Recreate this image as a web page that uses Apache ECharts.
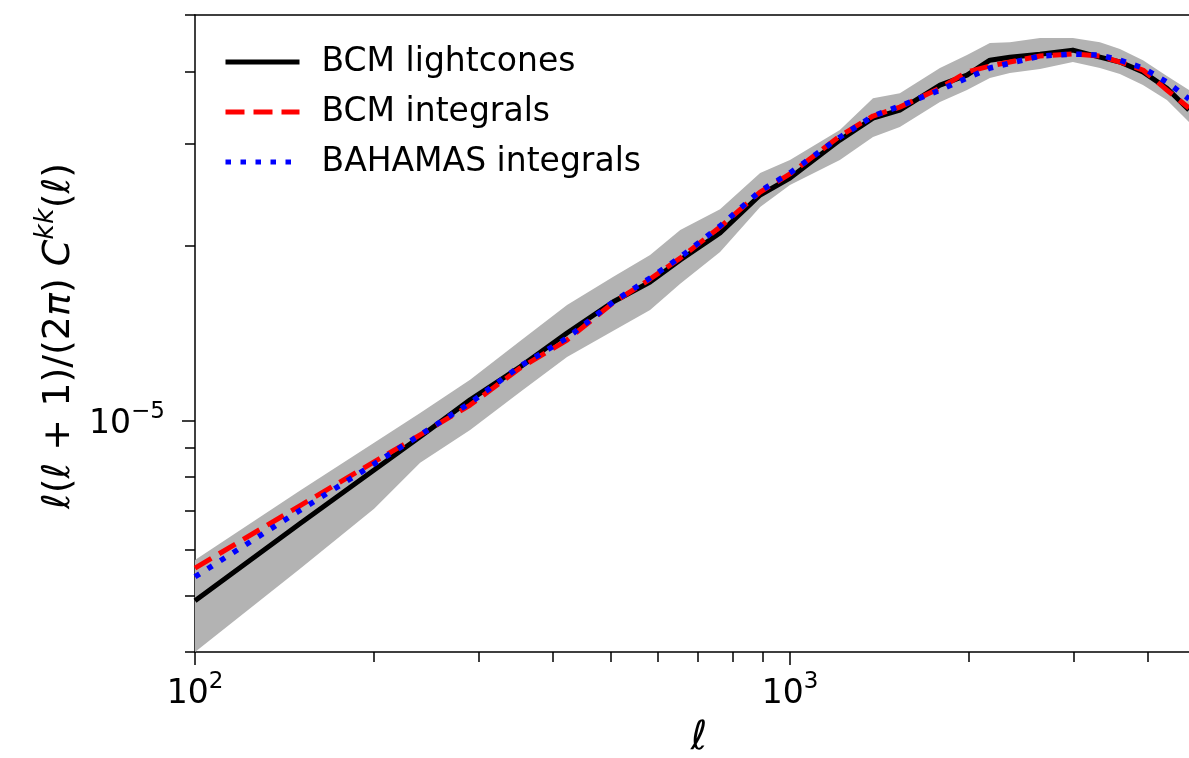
<!DOCTYPE html>
<html>
<head>
<meta charset="utf-8">
<script src="https://cdn.jsdelivr.net/npm/echarts@6/dist/echarts.min.js"></script>
<style>
html,body{margin:0;padding:0;background:#fff;}
#chart{width:1189px;height:758px;}
</style>
</head>
<body>
<div id="chart"></div>
<script>
// multipole ℓ
const ell = [100,150,200,239,290,352,422,504,582,654,763,891,1000,1213,1379,1530,1787,1984,2168,2342,2632,2989,3319,3586,3920,4301,4685];
// BCM lightcones (black solid)
const bcmLightcones = [4.90e-6,6.65e-6,8.23e-6,9.39e-6,1.087e-5,1.239e-5,1.417e-5,1.602e-5,1.735e-5,1.893e-5,2.107e-5,2.449e-5,2.620e-5,3.045e-5,3.323e-5,3.430e-5,3.787e-5,3.940e-5,4.180e-5,4.230e-5,4.280e-5,4.350e-5,4.230e-5,4.150e-5,3.990e-5,3.740e-5,3.430e-5];
// BCM integrals (red dashed)
const bcmIntegrals = [5.58e-6,7.14e-6,8.50e-6,9.46e-6,1.065e-5,1.233e-5,1.378e-5,1.596e-5,1.755e-5,1.907e-5,2.157e-5,2.478e-5,2.662e-5,3.094e-5,3.350e-5,3.470e-5,3.742e-5,3.988e-5,4.083e-5,4.149e-5,4.249e-5,4.283e-5,4.249e-5,4.149e-5,4.020e-5,3.713e-5,3.457e-5];
// BAHAMAS integrals (blue dotted)
const bahamasIntegrals = [5.39e-6,7.01e-6,8.43e-6,9.46e-6,1.074e-5,1.243e-5,1.389e-5,1.602e-5,1.762e-5,1.914e-5,2.166e-5,2.488e-5,2.673e-5,3.080e-5,3.350e-5,3.485e-5,3.713e-5,3.894e-5,4.052e-5,4.130e-5,4.249e-5,4.283e-5,4.266e-5,4.180e-5,4.052e-5,3.833e-5,3.583e-5];
// grey band around BCM lightcones
const bandUpper = [5.76e-6,7.58e-6,9.17e-6,1.032e-5,1.177e-5,1.373e-5,1.584e-5,1.769e-5,1.931e-5,2.132e-5,2.315e-5,2.673e-5,2.813e-5,3.170e-5,3.596e-5,3.668e-5,4.052e-5,4.266e-5,4.473e-5,4.490e-5,4.562e-5,4.562e-5,4.490e-5,4.370e-5,4.180e-5,3.925e-5,3.713e-5];
const bandLower = [4.00e-6,5.56e-6,7.06e-6,8.47e-6,9.65e-6,1.122e-5,1.289e-5,1.428e-5,1.552e-5,1.722e-5,1.954e-5,2.335e-5,2.548e-5,2.813e-5,3.082e-5,3.206e-5,3.540e-5,3.713e-5,3.894e-5,3.972e-5,4.036e-5,4.149e-5,4.052e-5,3.957e-5,3.787e-5,3.568e-5,3.270e-5];

const seriesNames = ['BCM lightcones','BCM integrals','BAHAMAS integrals'];
const xRange = [100, 4685];
const yRange = [4e-6, 5e-5];
const xMajorTicks = [100, 1000];
const xMinorTicks = [200,300,400,500,600,700,800,900,2000,3000,4000];
const yMajorTicks = [1e-5];
const yMinorTicks = [4e-6,5e-6,6e-6,7e-6,8e-6,9e-6,2e-5,3e-5,4e-5,5e-5];

const FONT = 'DejaVu Sans';
const supLabel = function (v) {
  const e = Math.round(Math.log10(v));
  return '{b|10}{s|' + String(e).replace('-', '\u2212') + '}';
};
const labelRich = {
  b: {fontFamily: FONT, fontSize: 33, color: '#000', verticalAlign: 'bottom', lineHeight: 40},
  s: {fontFamily: FONT, fontSize: 23, color: '#000', verticalAlign: 'top', lineHeight: 28}
};

const zip = (xs, ys) => xs.map((x, i) => [x, ys[i]]);

const chart = echarts.init(document.getElementById('chart'), null, {renderer: 'canvas'});
const commonX = {type: 'log', logBase: 10, min: xRange[0], max: xRange[1], gridIndex: 0, splitLine: {show: false}};
const commonY = {type: 'log', logBase: 10, min: yRange[0], max: yRange[1], gridIndex: 0, position: 'left', splitLine: {show: false}};
const tickLine = {color: '#000', width: 1.5};

chart.setOption({
  animation: false,
  backgroundColor: '#fff',
  grid: {left: 195, top: 15, right: 0, bottom: 106, show: false},
  xAxis: [
    Object.assign({}, commonX, {
      position: 'bottom',
      axisLine: {show: true, lineStyle: tickLine},
      axisTick: {show: true, inside: false, length: 13, lineStyle: tickLine, customValues: xMajorTicks},
      axisLabel: {show: true, margin: 19, customValues: xMajorTicks, formatter: supLabel, rich: labelRich}
    }),
    Object.assign({}, commonX, {
      position: 'bottom',
      axisLine: {show: false},
      axisTick: {show: true, inside: false, length: 10, lineStyle: tickLine, customValues: xMinorTicks},
      axisLabel: {show: false}
    }),
    Object.assign({}, commonX, {
      position: 'top',
      axisLine: {show: true, lineStyle: tickLine},
      axisTick: {show: false},
      axisLabel: {show: false}
    })
  ],
  yAxis: [
    Object.assign({}, commonY, {
      axisLine: {show: true, lineStyle: tickLine},
      axisTick: {show: true, inside: false, length: 13, lineStyle: tickLine, customValues: yMajorTicks},
      axisLabel: {show: true, margin: 30, customValues: yMajorTicks, formatter: supLabel, rich: labelRich}
    }),
    Object.assign({}, commonY, {
      axisLine: {show: false},
      axisTick: {show: true, inside: false, length: 10, lineStyle: tickLine, customValues: yMinorTicks},
      axisLabel: {show: false}
    })
  ],
  legend: {
    data: seriesNames.map(n => ({name: n, itemStyle: {opacity: 0}})),
    orient: 'vertical',
    left: 223,
    top: 38,
    padding: 0,
    itemWidth: 74,
    itemHeight: 20,
    itemGap: 2,
    itemStyle: {opacity: 0},
    lineStyle: {width: 5},
    textStyle: {fontFamily: FONT, fontSize: 33, color: '#000', lineHeight: 48, padding: [0, 0, 0, 17]},
    selectedMode: false
  },
  graphic: [
    {
      type: 'text', x: 699, y: 739,
      style: {text: '\u2113', font: 'italic 40px "DejaVu Sans"', fill: '#000', align: 'center', verticalAlign: 'middle'}
    },
    {
      type: 'text', x: 55, y: 336, rotation: Math.PI / 2,
      style: {
        text: '{i|\u2113}{n|(}{i|\u2113}{n| + 1)/(2}{i|\u03c0}{n|) }{i|C}{s|kk}{n|(}{i|\u2113}{n|)}',
        align: 'center', verticalAlign: 'middle', fill: '#000',
        rich: {
          n: {fontFamily: FONT, fontSize: 38, fill: '#000', verticalAlign: 'bottom', lineHeight: 46},
          i: {fontFamily: FONT, fontStyle: 'italic', fontSize: 38, fill: '#000', verticalAlign: 'bottom', lineHeight: 46},
          s: {fontFamily: FONT, fontStyle: 'italic', fontSize: 27, fill: '#000', verticalAlign: 'top', lineHeight: 32}
        }
      }
    }
  ],
  series: [
    {
      type: 'custom',
      name: 'band',
      clip: true,
      silent: true,
      z: 1,
      data: [[ell[0], bandUpper[0]]],
      renderItem: function (params, api) {
        const up = ell.map((l, i) => api.coord([l, bandUpper[i]]));
        const lo = ell.map((l, i) => api.coord([l, bandLower[i]])).reverse();
        return {type: 'polygon', shape: {points: up.concat(lo)}, style: {fill: '#b3b3b3', stroke: 'none'}};
      }
    },
    {
      type: 'line', name: seriesNames[0], data: zip(ell, bcmLightcones),
      symbol: 'none', smooth: false, z: 3,
      lineStyle: {color: '#000', width: 5, type: 'solid', join: 'round', cap: 'butt'},
      itemStyle: {color: '#000'}
    },
    {
      type: 'line', name: seriesNames[1], data: zip(ell, bcmIntegrals),
      symbol: 'none', smooth: false, z: 4,
      lineStyle: {color: '#ff0000', width: 5, type: [19, 9], cap: 'butt', join: 'round'},
      itemStyle: {color: '#ff0000'}
    },
    {
      type: 'line', name: seriesNames[2], data: zip(ell, bahamasIntegrals),
      symbol: 'none', smooth: false, z: 5,
      lineStyle: {color: '#0000ff', width: 5.5, type: [5.5, 9.5], cap: 'butt', join: 'round'},
      itemStyle: {color: '#0000ff'}
    }
  ]
});
</script>
</body>
</html>
